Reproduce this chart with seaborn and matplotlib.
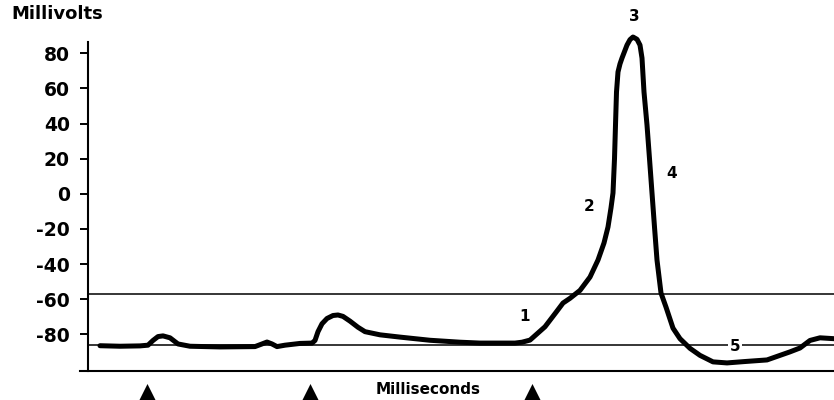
import numpy as np
import pandas as pd
import matplotlib
matplotlib.use("Agg")
import matplotlib.pyplot as plt
import seaborn as sns

# ---- data (time in arbitrary ms units, membrane potential in mV) ----
time_ms = [1.2, 3.2, 5.2, 6.0, 6.5, 7.0, 7.5, 8.2, 9.0, 10.2, 13.2, 16.7, 17.4, 17.9,
           18.4, 18.9, 19.7, 21.2, 22.4, 22.7, 23.0, 23.4, 23.9, 24.5, 25.0, 25.5,
           26.2, 27.0, 27.7, 29.2, 31.2, 34.2, 37.2, 39.2, 42.7, 43.4,
           44.2, 45.7, 46.8, 47.5, 48.2, 49.2, 50.2, 51.0, 51.6, 52.0, 52.3, 52.5,
           52.65, 52.75, 52.85, 53.0, 53.2, 53.4, 53.9, 54.2, 54.5, 54.9,
           55.2, 55.4, 55.6, 55.9, 56.15, 56.4, 56.65, 56.9, 57.3, 57.8, 58.5, 59.2,
           60.2, 61.2, 62.5, 63.9, 65.7, 67.9, 70.2, 71.2, 72.2, 73.2, 74.6]
voltage_mv = [-86.5, -86.8, -86.6, -86.2, -83.5, -81.3, -80.9, -82.0, -85.5, -86.8,
              -87.2, -87.0, -85.5, -84.4, -85.5, -87.0, -86.2, -85.2, -85.0, -83.5,
              -78.5, -74.0, -71.0, -69.3, -69.0, -69.8, -72.5, -76.0, -78.5, -80.3,
              -81.6, -83.4, -84.5, -85.0, -85.0, -84.5,
              -83.3, -75.7, -67.5, -62.2, -59.5, -55.0, -47.4, -37.7, -28.0, -18.9,
              -8.0, 0.5, 20.0, 39.2, 58.0, 69.4, 74.0, 77.3, 84.7, 87.8, 89.3, 88.0,
              84.7, 77.3, 58.0, 39.2, 20.0, 0.5, -18.9, -37.7, -56.5, -64.5, -76.5,
              -82.5, -88.0, -92.0, -95.7, -96.3, -95.5, -94.6, -90.0, -87.8, -83.5,
              -82.0, -82.5]
threshold_mv = -57.1
resting_mv = -86.1
stimulus_times = [5.9, 22.2, 44.4]
ytick_values = [80, 60, 40, 20, 0, -20, -40, -60, -80]
ytick_labels = ["80", "60", "40", "20", "0", "-20", "-40", "-60", "-80"]
phase_labels = ["1", "2", "3", "4", "5"]
phase_x = [43.7, 50.1, 54.6, 58.4, 64.7]
phase_y = [-70.1, -7.5, 100.7, 11.3, -87.2]

df = pd.DataFrame({"time": time_ms, "mV": voltage_mv})

sns.set_style("white")
plt.rcParams["font.family"] = ["DejaVu Sans"]
plt.rcParams["text.color"] = "black"

fig = plt.figure(figsize=(8.34, 4.00), dpi=100)
ax = fig.add_axes([80 / 834, 29 / 400, 754 / 834, 344 / 400])

x_left, x_right = -0.8, 74.6
y_bottom, y_top = -100.9, 95.0

# reference lines
ax.hlines([threshold_mv, resting_mv], 0, x_right, color="black", linewidth=1.1, zorder=1)

sns.lineplot(data=df, x="time", y="mV", color="black", linewidth=3.6, ax=ax,
             estimator=None, sort=False, zorder=3)
for ln in ax.lines:
    ln.set_solid_joinstyle("round")
    ln.set_solid_capstyle("round")

ax.set_xlim(x_left, x_right)
ax.set_ylim(y_bottom, y_top)

# spines
for s in ["top", "right"]:
    ax.spines[s].set_visible(False)
ax.spines["left"].set_position(("data", 0))
ax.spines["left"].set_bounds(y_bottom, 86.4)
ax.spines["left"].set_linewidth(1.5)
ax.spines["bottom"].set_linewidth(1.5)
ax.spines["left"].set_color("black")
ax.spines["bottom"].set_color("black")

ax.set_xticks([])
ax.set_yticks(ytick_values)
ax.set_yticklabels(ytick_labels, fontsize=13.5, fontweight="bold", color="black")
ax.tick_params(axis="y", direction="out", length=6, width=1.4, pad=7, colors="black", left=True)
ax.set_xlabel("")
ax.set_ylabel("")

# phase numbers
for lab, px, py in zip(phase_labels, phase_x, phase_y):
    kw = {}
    if lab == "5":
        kw["bbox"] = dict(facecolor="white", edgecolor="none", pad=1.5)
    ax.text(px, py, lab, fontsize=11, fontweight="bold", ha="center", va="center",
            color="black", zorder=4, clip_on=False, **kw)

# stimulus markers
ax.scatter(stimulus_times, [-112.8] * len(stimulus_times), marker="^", s=150,
           color="black", clip_on=False, zorder=5, linewidths=0)

fig.text(11 / 834, 1 - 14 / 400, "Millivolts", fontsize=13, fontweight="bold",
         ha="left", va="center", color="black")
fig.text(428 / 834, 1 - 390 / 400, "Milliseconds", fontsize=11, fontweight="bold",
         ha="center", va="center", color="black")

fig.savefig("out.png", dpi=100)
